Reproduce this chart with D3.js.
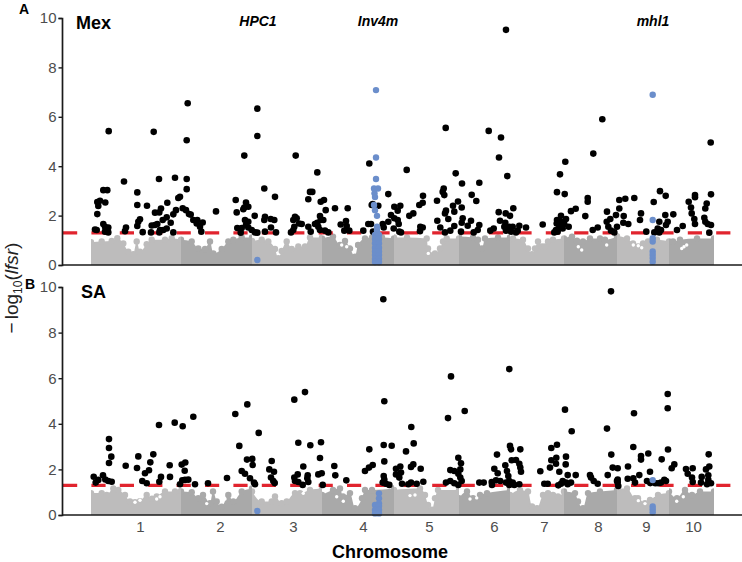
<!DOCTYPE html>
<html><head><meta charset="utf-8">
<style>html,body{margin:0;padding:0;background:#fff}svg{display:block}text{font-family:"Liberation Sans",Helvetica,Arial,sans-serif}</style>
<script src="https://d3js.org/d3.v7.min.js"></script></head><body>
<svg id="c" width="742" height="562"></svg>
<script>
const chromLabels=["1","2","3","4","5","6","7","8","9","10"];
const chromTicks=[78,158,231,301,367,432,482,536,584,631];
const chromEdges=[29,119,190,260,332,397,448,502,555,607,652];
const yTicks=[0,2,4,6,8,10];
const threshold=1.3;
const geneLabels=[["HPC1",196],["Inv4m",316],["mhl1",591]];

const mexHits=[[46.7,5.42],[41.3,3.03],[45.3,3.03],[62,3.38],[75.3,2.94],[75.3,2.43],[85,2.4],[97,3.48],[91.7,5.39],[113,3.53],[124.7,5.05],[125.7,6.55],[124.7,3.48],[124.7,3.07],[118,2.76],[116.3,2.71],[105.3,2.52],[35.3,2.06],[36.3,2.39],[35.3,2.55],[38,2.6],[43.3,2.53],[33,1.44],[34.7,1.42],[41.3,1.66],[43,1.55],[46.3,1.52],[43,1.35],[46.3,1.32],[64,1.52],[63,1.37],[78,1.85],[76.3,1.75],[75.3,1.58],[80.7,1.33],[89.7,1.6],[89,1.32],[93,1.62],[93,2.12],[97.3,2.13],[99,2.29],[104.7,1.93],[100.7,1.82],[108.7,1.71],[104.7,1.48],[95.3,1.66],[98,1.42],[97.3,1.32],[101.3,1.42],[111.3,1.32],[111.3,2.05],[114,2.22],[120.7,2.3],[124,2.22],[127,2.06],[128.7,2.04],[131.3,1.82],[135.3,1.82],[134.7,1.68],[140.7,1.72],[138,1.55],[139.3,1.35],[154,2.17],[173.7,2.63],[174.7,2.13],[175.3,1.5],[178.7,1.31],[179.7,1.5],[182.3,4.43],[195.3,6.33],[195.3,5.22],[184,2.53],[182.3,2.33],[186.3,2.36],[181.3,2.26],[183,1.82],[186.3,1.75],[184,1.62],[186.3,1.52],[189.7,1.42],[193,1.32],[195.3,1.31],[192.7,1.99],[202.3,3.1],[213,2.76],[203,1.95],[202.3,1.82],[208.7,1.86],[212.3,1.82],[209,1.52],[203,1.35],[214,1.32],[233.7,4.43],[255.3,3.75],[248,2.96],[250.3,2.96],[246.3,2.66],[258.7,2.56],[262,2.63],[263.7,2.22],[258,1.98],[273,2.3],[285.7,2.3],[233,1.95],[234.7,1.89],[231.3,1.82],[237,1.68],[232.3,1.55],[231.3,1.42],[229,1.32],[239.7,1.66],[246.3,1.55],[248.7,1.35],[253,1.66],[255.3,1.71],[258.7,1.82],[261.3,1.82],[256.3,1.55],[258,1.42],[263,1.39],[266.3,1.32],[278.7,1.64],[284,1.78],[282.3,1.39],[287.3,1.39],[284.7,1.58],[301.3,1.39],[306.3,1.66],[311,1.35],[307.3,4.11],[309.7,2.43],[310.7,2.47],[316.3,2.4],[309,1.66],[320.7,1.66],[321.7,1.52],[326.3,1.75],[326.3,2.87],[344.7,3.85],[332.3,2.36],[338.3,2.4],[335.7,2.2],[329,2.02],[332.3,1.89],[335.7,1.82],[336.7,1.66],[331.7,1.48],[337.3,1.35],[339,1.32],[347.3,1.99],[351.3,2.09],[357.3,2.43],[360.7,2.52],[361,2.8],[358.3,1.55],[360.7,1.52],[358,1.37],[383.7,5.55],[393.7,3.71],[400,3.3],[417.3,3.33],[409.7,2.84],[414.3,2.59],[381.7,3.1],[380.7,2.96],[382.3,2.83],[375,2.6],[391,2.4],[396,2.57],[399.7,2.33],[384,2.2],[383,2.09],[392.3,2.16],[375.3,1.79],[386.3,1.86],[378.3,1.52],[383,1.32],[388.3,1.39],[392.3,1.58],[399,1.35],[400.7,1.89],[399.7,1.71],[409,1.79],[405.7,1.59],[417.3,1.62],[415.7,1.42],[411.7,1.32],[426.7,5.43],[439,5.16],[437,4.35],[445.3,3.6],[444,9.52],[436.7,2.14],[443.7,2.09],[448,1.99],[451.3,2.3],[438,1.79],[443.3,1.71],[442.3,1.55],[447.3,1.55],[444,1.39],[450.7,1.55],[449,1.35],[454,1.32],[457.3,1.59],[455.7,1.39],[464,1.52],[431.7,1.48],[428.3,1.39],[480.7,1.64],[495,2.95],[502.7,2.87],[498,3.67],[503.3,4.18],[509,2.18],[513.7,2.28],[523.3,1.98],[525.7,2.71],[525.7,2.56],[495,1.82],[499,1.99],[504,1.86],[494.7,1.68],[499,1.75],[497.3,1.58],[500.7,1.48],[506.7,1.55],[502.3,1.66],[492.3,1.32],[495.7,1.35],[494,1.42],[531.3,4.51],[540.3,5.9],[530.7,1.42],[535.7,1.52],[545,2.16],[548.3,1.86],[544.7,1.75],[546.3,1.55],[554,2.02],[557.3,2.29],[561.7,1.98],[557.3,2.63],[563.3,2.68],[572.3,2.71],[561.3,1.71],[566.3,1.66],[555,1.55],[552.3,1.32],[549,1.39],[579,2.09],[578,1.82],[584.3,1.35],[591.7,2.55],[598,2.99],[603.7,2.8],[603.3,2.02],[611.3,2.05],[597.3,1.75],[605.7,1.75],[604,1.62],[595.7,1.48],[599,1.42],[592.3,1.32],[597.3,1.32],[615,1.42],[620.7,1.58],[626.7,2.56],[629,2.33],[629.7,2.09],[632.3,1.86],[633,1.66],[633,2.83],[633,2.74],[644.7,2.49],[643.3,2.29],[649,2.86],[642.3,1.91],[643.3,1.75],[645.7,1.66],[649,1.62],[647.3,1.31],[648.7,4.96]];

const mexBlue=[[195.3,0.2],[314,7.08],[314,4.35],[314,3.48],[312,3.1],[316,3.1],[312.5,2.9],[313,2.75],[312,2.43],[313,2.22],[315,1.99],[315,1.55],[315,1.4],[313,1.22],[317,1.22],[313,1.05],[317,1.05],[313,0.88],[317,0.88],[313,0.7],[317,0.7],[313,0.55],[317,0.55],[313,0.4],[317,0.4],[313,0.25],[317,0.25],[313,0.12],[317,0.12],[590.7,6.89],[590.7,1.82],[590.7,1.08],[590.7,0.95],[590.7,0.55],[590.7,0.42],[590.7,0.28],[590.7,0.13]];

const saHits=[[31.7,1.68],[33.7,1.42],[36.3,1.54],[41,1.74],[43.3,1.56],[46.3,1.49],[49.7,1.46],[47,3.33],[47,2.94],[49.3,2.56],[47,2.28],[63.7,2.16],[75,2.06],[76.3,2.57],[91.3,2.66],[88.3,2.31],[87,1.96],[83,1.83],[80.3,1.49],[84.7,1.39],[97,3.95],[112.7,4.05],[120.7,3.89],[131.3,4.31],[99,1.67],[97.3,1.46],[107.7,2.18],[108,1.67],[119.7,2.21],[123.3,2.3],[122.7,1.94],[120.3,1.52],[126.3,1.55],[123,1.54],[118,1.35],[133,1.35],[146,1.39],[165,1.62],[173.3,4.43],[185.3,4.85],[177.3,3.03],[196.7,3.6],[185,2.43],[190.3,2.46],[190.7,2.19],[179.7,1.93],[183,1.81],[188,1.61],[193,1.35],[192,1.42],[209.7,2.37],[207.3,2.0],[212,1.9],[209,1.64],[211.3,1.49],[212.7,1.4],[232.3,5.06],[243,5.39],[236.3,3.17],[248.3,3.06],[259,3.19],[258,2.5],[241.3,2.13],[232.3,1.64],[235.7,1.78],[233,1.49],[236.3,1.45],[240.7,1.32],[245.7,1.74],[245.3,1.61],[246.3,1.45],[256.3,1.78],[259.7,1.83],[260.7,1.32],[272.3,2.15],[273.3,1.74],[284.3,1.52],[303,1.93],[307,2.08],[307.3,2.88],[321.3,9.46],[322.3,4.99],[321.7,3.07],[329.7,3.04],[322.3,2.35],[310.7,2.19],[321.7,1.71],[322.3,1.56],[320.7,1.42],[324,1.37],[327.3,1.32],[349.3,3.86],[351.7,3.14],[344,2.79],[351.3,2.22],[349,2.11],[358.7,2.03],[334,2.03],[338.3,2.13],[339,1.86],[334,1.78],[337.3,1.64],[340,1.37],[346.3,1.35],[349,1.42],[354.7,1.37],[361.3,1.46],[389,6.08],[386,4.25],[402.7,4.56],[396.3,2.51],[399,2.27],[398.3,2.0],[388.3,1.97],[392.3,1.93],[396.3,1.81],[398.3,1.64],[384,1.42],[388.3,1.49],[392.3,1.39],[396.3,1.32],[399.7,1.49],[417.3,1.42],[421.7,1.42],[429.7,1.45],[430,1.32],[435,2.65],[447.3,6.4],[448,3.03],[449,2.88],[458.3,2.88],[449.7,2.4],[454,2.41],[457.3,2.25],[458.3,2.08],[459,1.9],[443.3,2.18],[445,1.93],[432.3,2.03],[435.7,1.83],[446.3,1.71],[434,1.52],[438.3,1.49],[444,1.42],[447.3,1.49],[450.7,1.42],[447.3,1.32],[452.3,1.32],[457.3,1.35],[478.3,1.92],[482.3,1.37],[485.7,1.37],[489.3,2.94],[495,3.08],[503,4.62],[509.7,3.67],[494.3,2.51],[504,2.56],[489.3,2.4],[488,2.08],[494,2.25],[503.7,2.22],[497.3,1.9],[505.7,1.75],[513.7,1.75],[500.7,1.49],[509,1.42],[504,1.42],[499,1.37],[496.3,1.3],[505.7,1.35],[528,1.75],[531.7,1.49],[535.7,1.37],[529,1.64],[545,3.79],[549,9.81],[549.3,2.65],[545.7,1.75],[550.7,2.08],[555.7,2.05],[555.7,1.56],[555.7,1.42],[556.3,1.27],[555,1.49],[572,4.46],[571.3,2.98],[566,2.13],[565.7,1.59],[571.3,1.61],[577.3,1.75],[573,1.42],[579,2.59],[579,2.43],[586.3,2.7],[588,1.9],[585,1.49],[588.3,1.4],[593.3,1.39],[596.3,1.39],[599,1.42],[602.3,1.54],[604,1.49],[599.7,2.44],[606,2.87],[605.7,5.31],[605.7,4.68],[612.3,2.22],[609.7,2.05],[624,2.02],[630.7,2.05],[625.7,1.81],[630,1.64],[630.7,1.45],[639.7,1.67],[639,1.42],[646.7,2.66],[647.3,2.13],[644,2.0],[646.3,1.74],[646.3,1.54],[649,1.39],[645,1.35]];

const saBlue=[[195.3,0.18],[317,0.95],[317,0.73],[317,0.51],[313,0.44],[317,0.4],[313,0.22],[317,0.22],[313,0.07],[317,0.07],[590.7,1.53],[590.7,0.37],[590.7,0.25],[590.7,0.12]];

// top of the non-significant point cloud along each chromosome
const mexBg=[
[[29,1.05],[39.7,1.08],[49.7,1.1],[55.3,1.21],[61.3,1.0],[66.3,.67],[71.3,.57],[74.7,1.08],[78,.67],[84.7,.97],[89.7,1.15],[103,1.15],[109.7,1.21],[119,1.15]],
[[119,1.15],[129.7,1.08],[136.3,.8],[143,.78],[148,1.08],[151.3,.6],[159.7,.78],[166.3,1.08],[171.3,1.15],[179.7,1.24],[190,1.24]],
[[190,1.1],[199.7,1.15],[206.3,1.08],[213,.78],[216.3,.4],[219.7,.7],[224.7,1.08],[229.7,.78],[236.3,.88],[243,.88],[248,1.24],[260,1.24]],
[[260,1.2],[271,1.28],[278,.94],[283,1.1],[288,.8],[293,.47],[296,.94],[303,1.2],[310,1.24],[320,1.24],[332,1.2]],
[[332,1.24],[345,1.24],[364.7,1.2],[366,.8],[373,.6],[378,.8],[381,1.08],[384.7,1.2],[397,1.2]],
[[397,1.28],[411,1.24],[416,1.15],[420,.8],[423,1.2],[436,1.24],[448,1.24]],
[[448,1.15],[451,1.2],[461,1.15],[466,.8],[470,.57],[473,.8],[476,1.08],[480,.88],[483,.88],[486,1.08],[491,1.15],[502,1.2]],
[[502,1.2],[510,1.28],[515,1.11],[521,1.08],[528,1.2],[538,1.2],[543,1.15],[555,1.28]],
[[555,1.3],[565,1.2],[571,1.0],[576,.88],[581,1.0],[586,1.08],[595,1.15],[607,1.08]],
[[607,1.08],[611,1.08],[618,1.15],[635,1.2],[652,1.2]]];

const saBg=[
[[29,1.1],[39.7,1.1],[44.7,1.02],[51.3,1.3],[56.3,1.24],[63,1.02],[68,.73],[73,.7],[78,.75],[84.7,1.02],[90,.85],[94.7,.95],[103,1.17],[113,1.17],[119,1.2]],
[[119,1.17],[129.7,1.14],[136.3,.88],[141,1.02],[148,.66],[151,1.17],[154.7,.73],[159.7,.5],[166.3,1.02],[171.3,.73],[179.7,1.17],[190,1.3]],
[[190,1.17],[199.7,.73],[209.7,.73],[213,.95],[219.7,.66],[224.7,.73],[233,1.1],[238,1.1],[248,1.24],[260,1.3]],
[[260,1.02],[271,1.24],[278,1.3],[281,.95],[288,1.1],[293,.44],[300,.88],[303,1.24],[310,1.24],[332,1.3]],
[[332,1.24],[358,1.3],[363,1.02],[366,.58],[370,.37],[373,.88],[376,1.24],[397,1.24]],
[[397,.88],[405,1.17],[411,.88],[418,1.02],[425,1.1],[448,1.24]],
[[448,1.02],[458,1.24],[466,1.17],[470,.51],[475,.44],[481,1.02],[486,1.1],[491,1.02],[496,.95],[502,1.17]],
[[502,1.17],[513,1.1],[516,.73],[521,.44],[526,1.1],[538,1.17],[555,1.24]],
[[555,1.3],[565,1.3],[573,.88],[576,.88],[583,.66],[588,.8],[596,1.02],[607,1.1]],
[[607,1.17],[615,.88],[623,1.24],[630,1.02],[638,1.17],[652,1.17]]];

// small white holes inside the point cloud
const mexGaps=[[516.3,.74],[519.7,.61],[544.7,.81],[619.7,.67],[622,.74],[624.7,.81],[571.3,.81],[576.3,.78],[579.7,.7],[279.7,.81],[284.7,.74],[291.3,.81],[366.3,.47]];
const saGaps=[[73,.56],[94.7,.7],[98,.8],[78,.65],[144.7,.5],[163,.7],[241.3,.95],[348,.85],[353,.88],[274.7,.8],[281.3,.6],[408,.7],[414.7,.75],[576.3,.63],[583,.5],[621.3,.8],[614.7,.6]];

const bandColors=["#bdbcbc","#a9a9a9"];
const ink="#1a1a1a";
const bgR=3.2;
const svg=d3.select("#c");
const x=d3.scaleLinear().domain([0,680]).range([62,742]);

function panel(id,top,bottom,hits,blue,bg,gaps,showX){
  const y=d3.scaleLinear().domain([0,10]).range([bottom,top]);
  const g=svg.append("g");
  bg.forEach((pts,i)=>{
    const a=chromEdges[i],b=chromEdges[i+1];
    const cid=`${id}c${i}`;
    g.append("clipPath").attr("id",cid).append("rect")
      .attr("x",x(a)).attr("width",x(b)-x(a)).attr("y",top).attr("height",bottom-top);
    const cg=g.append("g").attr("clip-path",`url(#${cid})`).attr("fill",bandColors[i%2]);
    cg.append("path").attr("d",d3.area().curve(d3.curveMonotoneX).x(d=>x(d[0])).y0(y(0)).y1(d=>y(d[1])+bgR)(pts));
    cg.selectAll("circle").data(pts).join("circle")
      .attr("cx",d=>x(d[0])).attr("cy",d=>y(d[1])+bgR).attr("r",bgR);
  });
  g.selectAll(".gap").data(gaps).join("circle").attr("class","gap")
    .attr("cx",d=>x(d[0])).attr("cy",d=>y(d[1])).attr("r",1.7).attr("fill","#fff");
  g.append("line").attr("x1",63).attr("x2",731).attr("y1",y(threshold)).attr("y2",y(threshold))
    .attr("stroke","#e1242e").attr("stroke-width",3.2).attr("stroke-dasharray","14.2 14.2");
  g.selectAll(".hit").data(hits).join("circle").attr("class","hit")
    .attr("cx",d=>x(d[0])).attr("cy",d=>y(d[1])).attr("r",3.3).attr("fill","#000");
  g.selectAll(".blue").data(blue).join("circle").attr("class","blue")
    .attr("cx",d=>x(d[0])).attr("cy",d=>y(d[1])).attr("r",3.2).attr("fill","#6b8ecb");

  const ay=svg.append("g").attr("transform","translate(62,0)")
    .call(d3.axisLeft(y).tickValues(yTicks).tickSize(3.5).tickPadding(2));
  ay.select(".domain").attr("stroke",ink).attr("stroke-width",1.7);
  ay.selectAll(".tick line").attr("stroke",ink).attr("stroke-width",1.4);
  ay.selectAll("text").attr("font-size",15).attr("fill","#4d4d4d").attr("font-family",'"Liberation Sans",Arial,sans-serif');

  const xb=d3.scaleOrdinal().domain(chromLabels).range(chromTicks.map(v=>x(v)));
  const ax=svg.append("g").attr("transform",`translate(0,${bottom})`)
    .call(d3.axisBottom(xb).tickSize(0).tickPadding(6).tickFormat(showX?(d=>d):(()=>"")));
  ax.select(".domain").attr("stroke",ink).attr("stroke-width",1.7).attr("d","M62,0H742");
  ax.selectAll("text").attr("font-size",15).attr("fill","#4d4d4d").attr("font-family",'"Liberation Sans",Arial,sans-serif');
}
panel("m",18,265,mexHits,mexBlue,mexBg,mexGaps,false);
panel("s",287,515,saHits,saBlue,saBg,saGaps,true);

function txt(s,px,py,size,weight,style,anchor){
  return svg.append("text").attr("x",px).attr("y",py).attr("font-size",size)
    .attr("font-weight",weight).attr("font-style",style||"normal").attr("text-anchor",anchor||"start").attr("fill","#000").text(s);
}
txt("A",19,14,14,"bold");
txt("B",25,289,14,"bold");
txt("Mex",76,29,18,"bold");
txt("SA",81,298,18,"bold");
geneLabels.forEach(d=>txt(d[0],x(d[1]),26,14,"bold","italic","middle"));
txt("Chromosome",390,558,18,"bold","normal","middle");

const yl=svg.append("text").attr("transform","translate(18,288) rotate(-90)").attr("text-anchor","middle")
  .attr("font-size",19).attr("fill","#222");
yl.append("tspan").text("\u2212");
yl.append("tspan").attr("dx",3).text("log");
yl.append("tspan").attr("font-size",12).attr("dy",4).text("10");
yl.append("tspan").attr("dy",-4).text("(");
yl.append("tspan").attr("font-style","italic").text("lfsr");
yl.append("tspan").text(")");
</script></body></html>
